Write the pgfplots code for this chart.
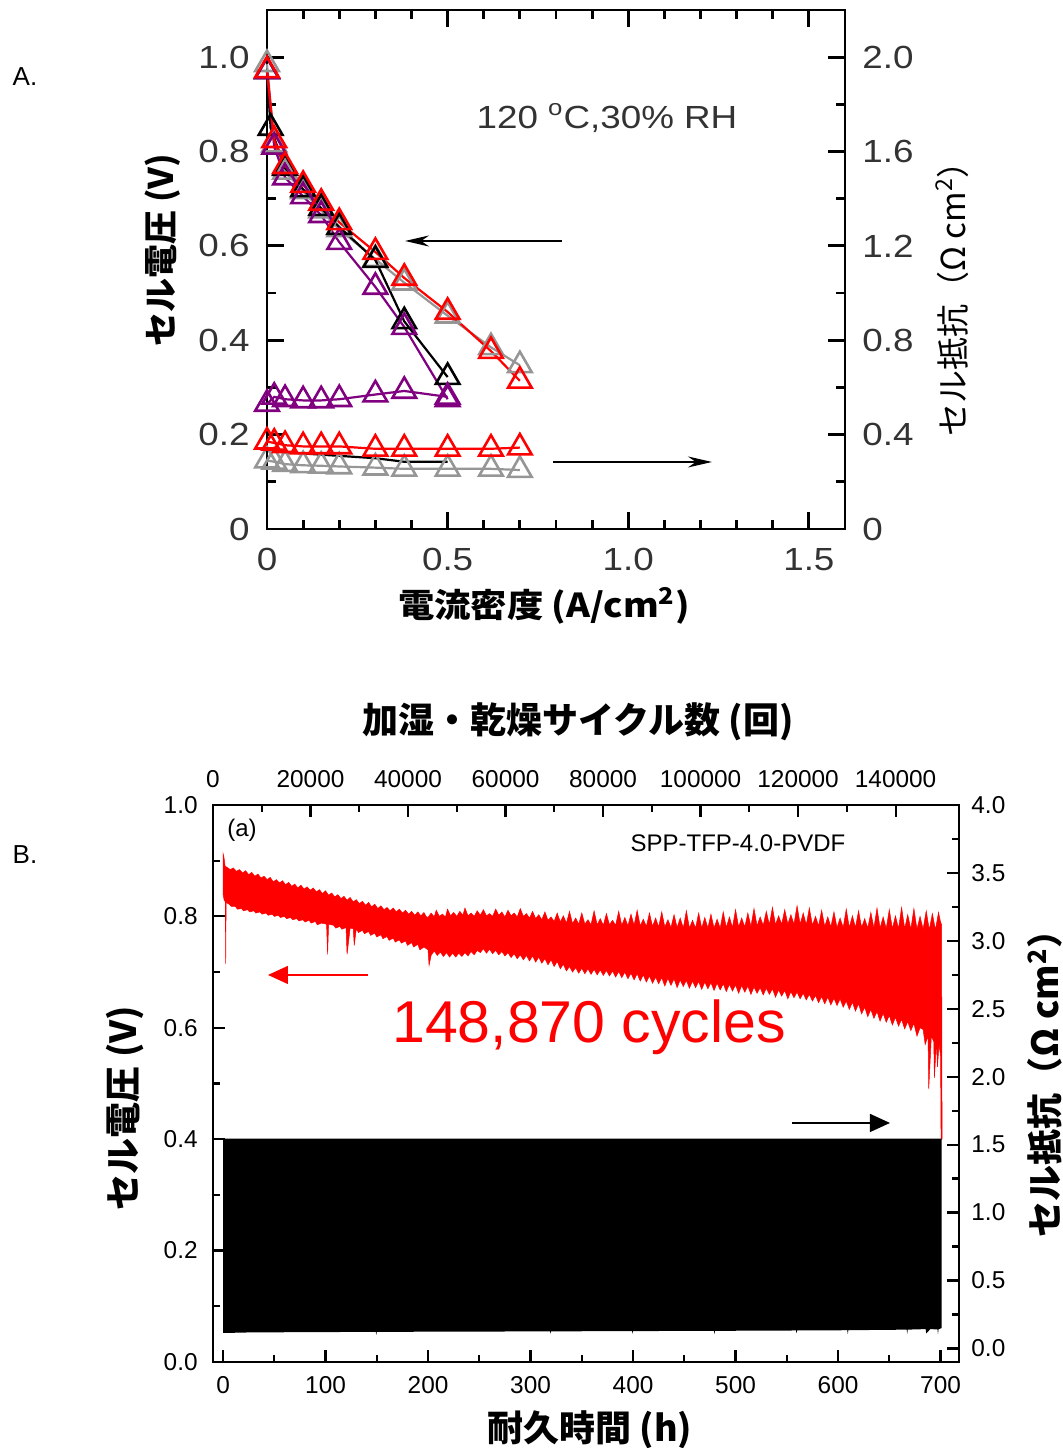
\documentclass[border=0pt]{standalone}
\usepackage{pgfplots}
\pgfplotsset{compat=1.18}
\usetikzlibrary{arrows.meta}
\usepackage{fontspec}
\setmainfont{Liberation Sans}
\newfontfamily\wideA[FakeStretch=1.15]{Liberation Sans}
\newfontfamily\jp{Noto Sans CJK JP}
\newfontfamily\jpwide[FakeStretch=1.1]{Noto Sans CJK JP}
\definecolor{mygray}{RGB}{150,150,150}
\definecolor{mypurple}{RGB}{128,0,128}

\pgfplotsset{
  panelA/.style={
    at={(133.5bp,459.5bp)}, anchor=south west,
    scale only axis, width=289bp, height=259.5bp,
    xmin=0, xmax=1.6, clip=false,
    tick align=inside,
    axis line style={line width=1.4bp},
    tick style={line width=1.4bp, black},
    major tick length=8.5bp, minor tick length=4.5bp,
    ticklabel style={font=\wideA\fontsize{16bp}{19bp}\selectfont, text=black!80},
  },
  panelB/.style={
    at={(106.5bp,43bp)}, anchor=south west,
    scale only axis, width=373bp, height=278.5bp,
    tick align=inside,
    axis line style={line width=1.1bp},
    tick style={line width=1.1bp, black},
    major tick length=6bp, minor tick length=3.5bp,
    ticklabel style={font=\fontsize{12.2bp}{14bp}\selectfont},
    scaled x ticks=false, scaled y ticks=false,
  },
  vcurve/.style={line width=1.1bp, mark=triangle, mark size=6.8bp,
    mark options={solid, fill=white, line width=1.3bp}},
}

\begin{document}
\begin{tikzpicture}
\path[use as bounding box] (0,0) rectangle (531.5bp,724bp);

% ---------------- panel A: cell voltage ----------------
\begin{axis}[panelA,
  ymin=0, ymax=1.1,
  xtick={0,0.5,1,1.5}, xticklabels={0,0.5,1.0,1.5},
  minor x tick num=4,
  ytick={0,0.2,0.4,0.6,0.8,1.0}, yticklabels={0,0.2,0.4,0.6,0.8,1.0},
  minor y tick num=1,
  xtick pos=both, ytick pos=left,
  xticklabel style={inner sep=0pt, anchor=north, yshift=-9.5bp},
  yticklabel style={inner sep=0pt, anchor=east, xshift=-8.5bp},
]
\addplot[vcurve, mygray] coordinates {
  (0,0.985) (0.02,0.815) (0.05,0.757) (0.1,0.716) (0.15,0.675) (0.2,0.635)
  (0.3,0.572) (0.38,0.522) (0.5,0.452) (0.62,0.385) (0.7,0.347)};
\addplot[vcurve, black] coordinates {
  (0,0.97) (0.01,0.85) (0.05,0.765) (0.1,0.72) (0.15,0.68) (0.2,0.64)
  (0.3,0.57) (0.38,0.44) (0.5,0.322)};
\addplot[vcurve, mypurple] coordinates {
  (0,0.97) (0.02,0.81) (0.05,0.745) (0.1,0.705) (0.15,0.665) (0.2,0.608)
  (0.3,0.513) (0.38,0.428) (0.5,0.275)};
\addplot[vcurve, red] coordinates {
  (0,0.972) (0.02,0.824) (0.05,0.769) (0.1,0.729) (0.15,0.691) (0.2,0.650)
  (0.3,0.587) (0.38,0.532) (0.5,0.460) (0.62,0.377) (0.7,0.314)};
\end{axis}

% ---------------- panel A: cell resistance ----------------
\begin{axis}[panelA,
  ymin=0, ymax=2.2,
  axis x line=none, axis y line*=right,
  ytick={0,0.4,0.8,1.2,1.6,2.0}, yticklabels={0,0.4,0.8,1.2,1.6,2.0},
  minor y tick num=1,
  yticklabel style={inner sep=0pt, anchor=west, xshift=8.5bp},
]
\addplot[vcurve, mygray] coordinates {
  (0,0.29) (0.02,0.285) (0.05,0.275) (0.1,0.27) (0.15,0.268) (0.2,0.265)
  (0.3,0.26) (0.38,0.255) (0.5,0.255) (0.62,0.255) (0.7,0.25)};
\addplot[black, line width=1.1bp] coordinates {
  (0,0.33) (0.02,0.33) (0.05,0.325) (0.1,0.32) (0.15,0.315) (0.2,0.31)
  (0.3,0.30) (0.38,0.285) (0.5,0.285)};
\addplot[vcurve, mypurple] coordinates {
  (0,0.53) (0.02,0.56) (0.05,0.55) (0.1,0.545) (0.15,0.545) (0.2,0.55)
  (0.3,0.57) (0.38,0.585) (0.5,0.56)};
\addplot[vcurve, red] coordinates {
  (0,0.37) (0.02,0.365) (0.05,0.355) (0.1,0.35) (0.15,0.35) (0.2,0.35)
  (0.3,0.34) (0.38,0.34) (0.5,0.34) (0.62,0.34) (0.7,0.345)};
\end{axis}

% ---------------- panel B: cell voltage vs time ----------------
\begin{axis}[panelB,
  xmin=-9.8, xmax=718, ymin=0, ymax=1,
  xtick={0,100,200,300,400,500,600,700},
  xticklabels={0,100,200,300,400,500,600,700},
  minor x tick num=1,
  ytick={0,0.2,0.4,0.6,0.8,1.0},
  yticklabels={0.0,0.2,0.4,0.6,0.8,1.0},
  minor y tick num=1,
  xtick pos=left, ytick pos=left,
  xticklabel style={inner sep=0pt, anchor=north, yshift=-7bp},
  yticklabel style={inner sep=0pt, anchor=east, xshift=-7.5bp},
]
% upper edge of the voltage band (left to right), then lower edge (right to left)
\addplot[fill=red, draw=red, line width=0.25bp] coordinates {
  (0,0.84) (0,0.913) (1,0.905) (2,0.890) (4,0.888) (7,0.884) (10,0.887) (13,0.881)
  (16,0.884) (19,0.878) (22,0.882) (25,0.875) (28,0.879) (31,0.872) (34,0.876)
  (37,0.869) (40,0.872) (43,0.866) (46,0.870) (49,0.862) (52,0.866) (55,0.860)
  (58,0.864) (61,0.857) (64,0.861) (67,0.854) (70,0.858) (73,0.851) (76,0.856)
  (79,0.849) (82,0.853) (85,0.847) (88,0.851) (91,0.844) (94,0.848) (97,0.841)
  (100,0.846) (103,0.838) (106,0.842) (109,0.835) (112,0.839) (115,0.832) (118,0.836)
  (121,0.829) (124,0.834) (127,0.826) (130,0.830) (133,0.823) (136,0.827) (139,0.820)
  (142,0.825) (145,0.817) (148,0.822) (151,0.814) (154,0.819) (157,0.812) (160,0.816)
  (163,0.810) (166,0.815) (169,0.808) (172,0.813) (175,0.806) (178,0.811) (181,0.804)
  (184,0.809) (187,0.802) (190,0.808) (193,0.801) (196,0.807) (198,0.800)
  (200,0.798) (203,0.806) (206,0.799) (208,0.811) (211,0.800) (214,0.804) (217,0.799)
  (219,0.813) (222,0.801) (225,0.807) (228,0.800) (231,0.809) (234,0.802) (236,0.815)
  (239,0.801) (242,0.806) (245,0.800) (248,0.810) (251,0.802) (254,0.812) (257,0.801)
  (260,0.805) (263,0.800) (266,0.813) (269,0.802) (272,0.808) (275,0.799) (278,0.811)
  (281,0.801) (284,0.806) (287,0.799) (290,0.814) (293,0.800) (296,0.805) (299,0.797)
  (302,0.809) (305,0.796) (308,0.803) (311,0.794) (314,0.808) (317,0.793) (320,0.799)
  (323,0.791) (326,0.806) (329,0.790) (332,0.801) (335,0.788) (338,0.809) (341,0.787)
  (344,0.797) (347,0.786) (350,0.806) (353,0.786) (356,0.794) (359,0.785) (362,0.810)
  (365,0.785) (368,0.796) (371,0.784) (374,0.805) (377,0.785) (380,0.793) (383,0.784)
  (386,0.809) (389,0.784) (392,0.798) (395,0.783) (398,0.804) (401,0.784) (404,0.811)
  (407,0.783) (410,0.795) (413,0.782) (416,0.806) (419,0.782) (422,0.797) (425,0.781)
  (428,0.808) (431,0.781) (434,0.794) (437,0.780) (440,0.803) (443,0.780) (446,0.797)
  (449,0.779) (452,0.810) (455,0.779) (458,0.793) (461,0.779) (464,0.806) (467,0.779)
  (470,0.798) (473,0.779) (476,0.804) (479,0.779) (482,0.795) (485,0.779) (488,0.808)
  (491,0.780) (494,0.799) (497,0.780) (500,0.812) (503,0.781) (506,0.797) (509,0.781)
  (512,0.806) (515,0.782) (518,0.814) (521,0.783) (524,0.799) (527,0.784) (530,0.809)
  (533,0.785) (536,0.816) (539,0.785) (542,0.801) (545,0.786) (548,0.812) (551,0.786)
  (554,0.803) (557,0.786) (560,0.819) (563,0.786) (566,0.806) (569,0.785) (572,0.815)
  (575,0.784) (578,0.800) (581,0.783) (584,0.811) (587,0.782) (590,0.799) (593,0.781)
  (596,0.808) (599,0.780) (602,0.797) (605,0.780) (608,0.813) (611,0.780) (614,0.801)
  (617,0.780) (620,0.810) (623,0.780) (626,0.796) (629,0.779) (632,0.807) (635,0.779)
  (638,0.815) (641,0.779) (644,0.799) (647,0.778) (650,0.812) (653,0.778) (656,0.801)
  (659,0.778) (662,0.816) (665,0.778) (668,0.803) (671,0.777) (674,0.814) (677,0.777)
  (680,0.800) (683,0.777) (686,0.810) (689,0.776) (692,0.805) (695,0.776) (698,0.807)
  (700,0.790) (701,0.785)
  (701.5,0.40) (700.5,0.40) (700,0.55) (698.5,0.57) (697,0.53) (696,0.575) (694,0.51)
  (693.4,0.575) (691,0.585) (688.5,0.49) (687.8,0.585) (685,0.570) (683,0.597)
  (680,0.600) (677,0.585) (674,0.608) (671,0.595) (668,0.611) (665,0.598) (662,0.615)
  (659,0.603) (656,0.619) (653,0.605) (650,0.622) (647,0.610) (644,0.626) (641,0.612)
  (638,0.629) (635,0.617) (632,0.633) (629,0.620) (626,0.637) (623,0.625) (620,0.643)
  (617,0.630) (614,0.646) (611,0.633) (608,0.648) (605,0.637) (602,0.652) (599,0.640)
  (596,0.653) (593,0.641) (590,0.655) (587,0.643) (584,0.656) (581,0.645) (578,0.658)
  (575,0.648) (572,0.660) (569,0.650) (566,0.662) (563,0.652) (560,0.664) (557,0.654)
  (554,0.665) (551,0.652) (548,0.667) (545,0.657) (542,0.668) (539,0.655) (536,0.670)
  (533,0.660) (530,0.671) (527,0.659) (524,0.672) (521,0.662) (518,0.673) (515,0.660)
  (512,0.675) (509,0.664) (506,0.676) (503,0.662) (500,0.677) (497,0.666) (494,0.678)
  (491,0.665) (488,0.679) (485,0.668) (482,0.680) (479,0.667) (476,0.681) (473,0.670)
  (470,0.682) (467,0.669) (464,0.683) (461,0.672) (458,0.684) (455,0.671) (452,0.685)
  (449,0.674) (446,0.686) (443,0.672) (440,0.688) (437,0.676) (434,0.689) (431,0.675)
  (428,0.690) (425,0.679) (422,0.691) (419,0.680) (416,0.693) (413,0.682) (410,0.695)
  (407,0.684) (404,0.697) (401,0.686) (398,0.698) (395,0.688) (392,0.700) (389,0.690)
  (386,0.701) (383,0.691) (380,0.702) (377,0.693) (374,0.703) (371,0.694) (368,0.704)
  (365,0.695) (362,0.705) (359,0.696) (356,0.706) (353,0.697) (350,0.707) (347,0.698)
  (344,0.708) (341,0.700) (338,0.710) (335,0.702) (332,0.714) (329,0.706) (326,0.719)
  (323,0.710) (320,0.722) (317,0.713) (314,0.724) (311,0.716) (308,0.727) (305,0.718)
  (302,0.729) (299,0.720) (296,0.730) (293,0.722) (290,0.731) (287,0.724) (284,0.733)
  (281,0.726) (278,0.735) (275,0.729) (272,0.737) (269,0.731) (266,0.739) (263,0.733)
  (260,0.741) (257,0.734) (254,0.742) (251,0.735) (248,0.739) (245,0.731) (242,0.737)
  (239,0.729) (236,0.735) (233,0.728) (230,0.734) (227,0.727) (224,0.734) (221,0.727)
  (218,0.735) (215,0.728) (212,0.736) (209,0.730) (206,0.738) (203,0.730) (201,0.712)
  (200,0.740) (196,0.745) (192,0.740) (190,0.750) (186,0.745) (184,0.753) (180,0.748)
  (178,0.756) (174,0.752) (172,0.758) (168,0.754) (166,0.761) (162,0.757) (160,0.764)
  (156,0.760) (154,0.767) (150,0.763) (148,0.770) (144,0.766) (142,0.773) (138,0.769)
  (136,0.775) (132,0.771) (130,0.778) (128,0.748) (127,0.778) (124,0.779) (121,0.732)
  (120,0.780) (116,0.777) (114,0.782) (110,0.779) (108,0.784) (103,0.786) (102,0.732)
  (101,0.786) (96,0.788) (92,0.785) (90,0.791) (86,0.788) (84,0.793) (80,0.790)
  (78,0.794) (74,0.792) (72,0.796) (68,0.794) (66,0.798) (62,0.796) (60,0.800)
  (56,0.798) (54,0.802) (50,0.800) (48,0.804) (44,0.802) (42,0.806) (38,0.804)
  (36,0.808) (32,0.806) (30,0.810) (26,0.808) (24,0.812) (20,0.810) (18,0.814)
  (14,0.813) (12,0.818) (8,0.818) (6,0.822) (3,0.825) (2.6,0.715) (2.2,0.826)
  (1,0.830) (0,0.840)} -- cycle;
\end{axis}

% ---------------- panel B: cell resistance ----------------
\begin{axis}[panelB,
  xmin=-9.8, xmax=718, ymin=-0.1, ymax=4,
  axis x line=none, axis y line*=right,
  ytick={0,0.5,1,1.5,2,2.5,3,3.5,4},
  yticklabels={0.0,0.5,1.0,1.5,2.0,2.5,3.0,3.5,4.0},
  minor y tick num=1,
  yticklabel style={inner sep=0pt, anchor=west, xshift=6bp},
]
\addplot[fill=black, draw=none] coordinates {
  (0,1.545) (701,1.545) (701,0.15) (698,0.14) (697.5,0.105) (697,0.14) (690,0.142)
  (686,0.11) (685.5,0.142) (675,0.14) (668,0.138) (667.5,0.108) (667,0.138)
  (650,0.137) (640,0.136) (620,0.135) (610,0.134) (609.5,0.105) (609,0.134)
  (590,0.133) (570,0.133) (560,0.132) (559.5,0.11) (559,0.132) (530,0.131)
  (500,0.13) (480,0.13) (479.5,0.105) (479,0.13) (450,0.129) (420,0.128)
  (400,0.128) (399.5,0.108) (399,0.128) (370,0.127) (340,0.126) (320,0.126)
  (319.5,0.108) (319,0.126) (290,0.125) (260,0.124) (240,0.124) (200,0.123)
  (160,0.122) (150,0.122) (149.5,0.10) (149,0.122) (120,0.121) (90,0.12)
  (60,0.119) (40,0.118) (20,0.117) (10,0.115) (0,0.115)} -- cycle;
\end{axis}

% ---------------- panel B: cycle count (top axis) ----------------
\begin{axis}[panelB,
  xmin=0, xmax=153000, ymin=0, ymax=1,
  axis y line=none, axis x line*=top,
  xtick={0,20000,40000,60000,80000,100000,120000,140000},
  xticklabels={0,20000,40000,60000,80000,100000,120000,140000},
  minor x tick num=1,
  xticklabel style={inner sep=0pt, anchor=south, yshift=8.5bp},
]
\addplot[draw=none] coordinates {(0,0)};
\end{axis}

% ---------------- annotations (pixel coordinates of the reference) ----------------
\begin{scope}[x=0.5bp, y=-0.5bp, shift={(0,724bp)}]
  \node[font=\fontsize{13bp}{15bp}\selectfont] at (25,77) {A.};
  \node[font=\fontsize{13bp}{15bp}\selectfont] at (25,855) {B.};

  \node[font=\wideA\fontsize{16bp}{19bp}\selectfont, text=black!80] at (607,118)
    {120 \textsuperscript{o}C,30\% RH};
  \draw[line width=0.9bp, -{Stealth[length=12bp,width=5.5bp]}] (562,241) -- (405,241);
  \draw[line width=0.9bp, -{Stealth[length=12bp,width=5.5bp]}] (553,462) -- (712,462);
  \node[rotate=90, font=\jp\bfseries\fontsize{17bp}{20bp}\selectfont] at (163,250)
    {セル電圧 (V)};
  \node[rotate=90, font=\jp\fontsize{16.5bp}{20bp}\selectfont] at (952,291)
    {セル抵抗（Ω cm\textsuperscript{2}）};
  \node[font=\jpwide\bfseries\fontsize{16.5bp}{20bp}\selectfont] at (544,606)
    {電流密度 (A/cm\textsuperscript{2})};

  \node[font=\fontsize{12bp}{14bp}\selectfont] at (242,830) {(a)};
  \node[font=\fontsize{12bp}{14bp}\selectfont] at (738,843) {SPP-TFP-4.0-PVDF};
  \node[text=red, font=\fontsize{29.5bp}{33bp}\selectfont] at (589,1027) {148,870 cycles};
  \draw[red, line width=0.7bp, -{Triangle[length=10bp,width=9bp]}] (368,975) -- (268,975);
  \draw[black, line width=0.7bp, -{Triangle[length=10bp,width=9bp]}] (792,1123) -- (890,1123);
  \node[font=\jp\bfseries\fontsize{18bp}{21bp}\selectfont] at (578,722)
    {加湿・乾燥サイクル数 (回)};
  \node[font=\jp\bfseries\fontsize{18bp}{21bp}\selectfont] at (590,1430)
    {耐久時間 (h)};
  \node[rotate=90, font=\jp\bfseries\fontsize{18bp}{21bp}\selectfont] at (125,1108)
    {セル電圧 (V)};
  \node[rotate=90, font=\jp\bfseries\fontsize{18bp}{21bp}\selectfont] at (1045,1075)
    {セル抵抗（Ω cm\textsuperscript{2}）};
\end{scope}
\end{tikzpicture}
\end{document}
